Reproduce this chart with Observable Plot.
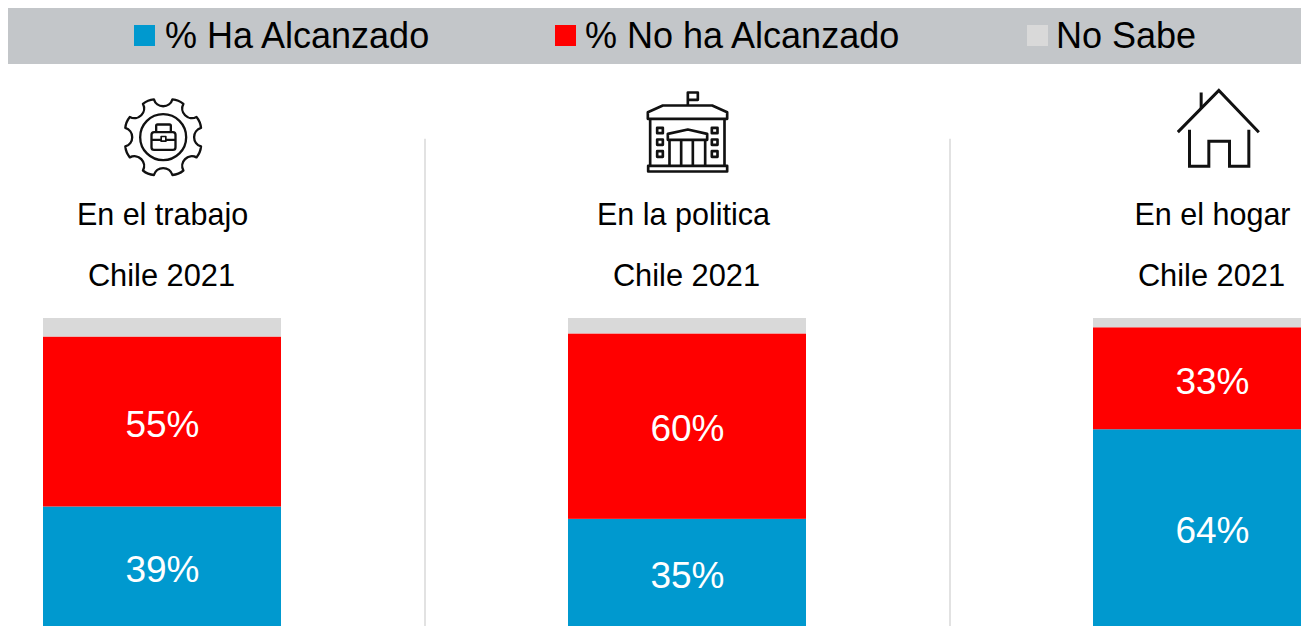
<!DOCTYPE html>
<html lang="es">
<head>
<meta charset="utf-8">
<script src="https://cdn.jsdelivr.net/npm/d3@7"></script>
<script src="https://cdn.jsdelivr.net/npm/@observablehq/plot@0.6"></script>
<style>
html,body{margin:0;padding:0;background:#fff;overflow:hidden;width:1301px;height:626px;}
body{font-family:"Liberation Sans",Arial,sans-serif;}
#legend{position:absolute;left:8px;top:8px;width:1293px;height:56px;background:#c3c6c9;}
.item{position:absolute;top:0;height:56px;line-height:55px;font-size:36px;color:#000;white-space:nowrap;}
.sw{position:absolute;top:17px;width:21px;height:21px;}
#chart{position:absolute;left:0;top:64px;width:1301px;height:562px;overflow:hidden;}
#chart svg{overflow:hidden;}
</style>
</head>
<body>
<div id="legend"></div>
<div id="chart"></div>
<script>
const categories = ["En el trabajo", "En la politica", "En el hogar"];
const series = ["% Ha Alcanzado", "% No ha Alcanzado", "No Sabe"];
const colors = ["#0099cf", "#ff0000", "#d9d9d9"];
const haAlcanzado = [39, 35, 64];
const noHaAlcanzado = [55, 60, 33];
const noSabe = [6, 5, 3];
const subtitle = "Chile 2021";
const titleShift = [0, -4, 0];

const rows = categories.flatMap((c, i) => [
  {cat: c, serie: series[0], v: haAlcanzado[i]},
  {cat: c, serie: series[1], v: noHaAlcanzado[i]},
  {cat: c, serie: series[2], v: noSabe[i]}
]);

// Legend
const legend = document.getElementById("legend");
const swatchX = [126, 547, 1019];
const labelX = [157, 577, 1048];
series.forEach((s, i) => {
  const sw = document.createElement("div");
  sw.className = "sw"; sw.style.left = swatchX[i] + "px"; sw.style.background = colors[i];
  legend.appendChild(sw);
  const t = document.createElement("div");
  t.className = "item"; t.style.left = labelX[i] + "px"; t.textContent = s;
  legend.appendChild(t);
});

// Icons, drawn at 3x in their own viewBox
const gear = (() => {
  const cx = 188, cy = 170, R = 117, n = 8, w = 0.24;
  const p = (ang) => `${(cx + R * Math.cos(ang)).toFixed(1)} ${(cy + R * Math.sin(ang)).toFixed(1)}`;
  let d = "";
  for (let i = 0; i < n; i++) {
    const a = (i * 2 * Math.PI) / n - Math.PI / 2;
    d += (i ? "L" : "M") + p(a - w);
    d += `A29 29 0 0 0 ${p(a + w)}`;
    d += `A60 60 0 0 1 ${p(a + Math.PI / 4 - w)}`;
  }
  return d + "Z";
})();
const svgUri = (vb, body) => "data:image/svg+xml," + encodeURIComponent(
  `<svg xmlns="http://www.w3.org/2000/svg" width="120" height="110" viewBox="${vb} 360 330"><g fill="none" stroke="#111" stroke-width="8" stroke-linejoin="round">${body}</g></svg>`);
const icons = [
  svgUri("6 0", `<path d="${gear}" stroke-width="7"/><circle cx="188" cy="170" r="69" stroke-width="7"/>
    <rect x="153" y="155" width="72" height="53" rx="8" stroke-width="7"/><path d="M153 178H225M167 155V136Q167 132 171 132H207Q211 132 211 136V155" stroke-width="7"/>
    <rect x="182" y="168" width="14" height="14" stroke-width="5" fill="#fff"/>`),
  svgUri("-6 0", `<path d="M175 75V36H205V58H175"/><path d="M55 115V95L100 75H248L293 95V115Z"/><path d="M62 115V255M285 115V255"/>
    <rect x="56" y="256" width="237" height="17"/><rect x="83" y="142" width="17" height="16"/><rect x="83" y="177" width="17" height="16"/><rect x="83" y="212" width="17" height="17"/>
    <rect x="247" y="142" width="17" height="16"/><rect x="247" y="177" width="17" height="16"/><rect x="247" y="212" width="17" height="17"/>
    <path d="M115 178V160L175 147L233 160V178Z"/><path d="M120 178V255M155 178V255M190 178V255M227 178V255"/>`),
  svgUri("-24 0", `<g stroke-width="9" stroke-linejoin="miter"><path d="M52 155L175 30L295 155"/><path d="M122 36V85"/><path d="M87 148V257H145V182H207V257H265V148"/></g>`)
];

const pct = d => d.v >= 10 ? d.v + "%" : "";

const plot = Plot.plot({
  width: 1301,
  height: 562,
  margin: 0,
  style: {fontFamily: '"Liberation Sans", Arial, sans-serif', background: "transparent"},
  x: {domain: categories, range: [43, 1331], paddingInner: 0.5467, paddingOuter: 0, axis: null},
  y: {domain: [0, 100], range: [563, 254], axis: null},
  color: {domain: series, range: colors},
  marks: [
    Plot.ruleX(categories.slice(0, 2), {x: d => d, dx: 262.5, y1: -5, y2: 158, stroke: "#d9d9d9", strokeWidth: 1.5}),
    Plot.barY(rows, Plot.stackY({x: "cat", y: "v", fill: "serie"})),
    Plot.text(rows, Plot.stackY({x: "cat", y: "v", text: pct, fill: "#fff", fontSize: 37, dy: 3})),
    Plot.text(categories, {x: d => d, text: d => d, frameAnchor: "top", dy: 139, dx: 0, fontSize: 30.5, fill: "#000", filter: (d, i) => titleShift[i] === 0}),
    Plot.text(categories, {x: d => d, text: d => d, frameAnchor: "top", dy: 139, dx: -4, fontSize: 30.5, fill: "#000", filter: (d, i) => titleShift[i] !== 0}),
    Plot.text(categories, {x: d => d, text: () => subtitle, frameAnchor: "top", dy: 200, dx: -1, fontSize: 30.8, fill: "#000"}),
    Plot.image(categories, {x: d => d, src: (d, i) => icons[i], frameAnchor: "top", dy: 71, width: 120, height: 110})
  ]
});
document.getElementById("chart").appendChild(plot);
</script>
</body>
</html>
